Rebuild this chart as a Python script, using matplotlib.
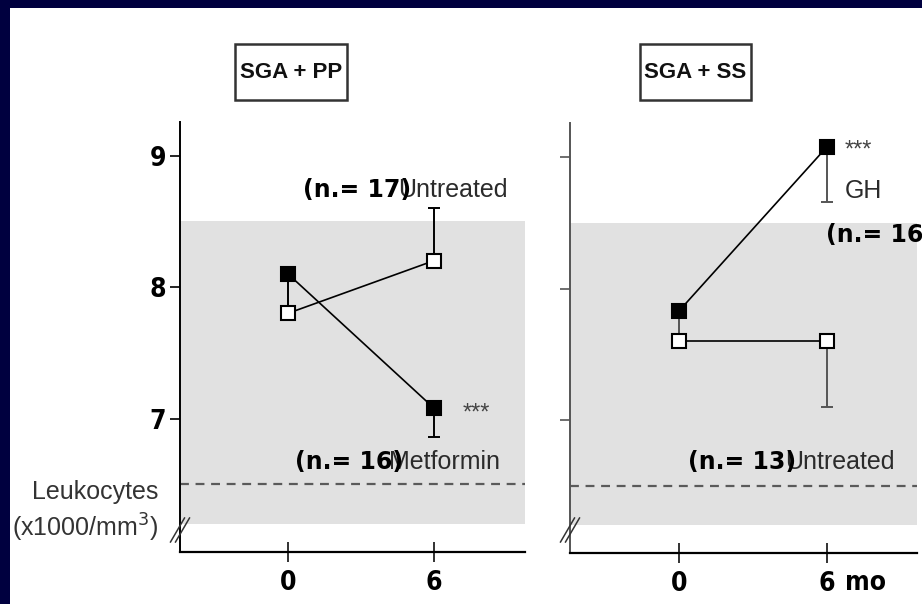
import matplotlib
matplotlib.use('Agg')
import matplotlib.pyplot as plt
from matplotlib import font_manager
from matplotlib.font_manager import FontProperties
from matplotlib.patches import Rectangle
from matplotlib.lines import Line2D

# ---------------- data ----------------
months = [0, 6]
xtick_labels = ['0', '6']
yticks = [7, 8, 9]
panel_titles = ['SGA + PP', 'SGA + SS']

pp_metformin = [8.10, 7.08]
pp_metformin_err_low = [0.25, 0.22]
pp_untreated = [7.80, 8.20]
pp_untreated_err_up = [0.0, 0.40]

ss_gh = [7.83, 9.08]
ss_gh_err_low = [0.20, 0.42]
ss_untreated = [7.60, 7.60]
ss_untreated_err_low = [0.0, 0.50]

normal_range = (6.2, 8.5)
reference_line = 6.5


# ---------------- fonts ----------------
def _num_weight(w):
    if isinstance(w, (int, float)):
        return int(w)
    return font_manager.weight_dict.get(str(w).lower(), 400)


def _is_narrow(f):
    n = f.name
    if 'Narrow' in n or 'Condensed' in n:
        return True
    s = f.stretch
    if isinstance(s, (int, float)):
        return s < 100
    return 'condensed' in str(s).lower()


def find_condensed(target_weight):
    best = None
    for f in font_manager.fontManager.ttflist:
        n = f.name
        if 'Mono' in n or 'Serif' in n or f.style != 'normal':
            continue
        if not _is_narrow(f):
            continue
        s = str(f.stretch).lower()
        if 'extra' in s or 'ultra' in s or 'Extra' in n or 'Ultra' in n:
            continue
        w = _num_weight(f.weight)
        score = abs(w - target_weight) / 50.0
        if 'Liberation' in n or 'Arial' in n:
            score += 0
        elif 'Noto Sans' in n:
            score += 1
        else:
            score += 2
        if 'semi' in s or 'Semi' in n:
            score += 0.5
        if best is None or score < best[0]:
            best = (score, f.fname)
    return best[1] if best else None


_cb = find_condensed(700)


def cond_bold(size):
    if _cb:
        return FontProperties(fname=_cb, size=size)
    return FontProperties(family='Liberation Sans', weight='bold', size=size * 0.85)


W, H = 922, 604
NAVY = '#00003f'
GRAYTXT = '#2b2b2b'

fig = plt.figure(figsize=(W / 100, H / 100), dpi=100)
fig.patch.set_facecolor(NAVY)
fig.patches.append(Rectangle((10 / W, 0), 1 - 10 / W, 1 - 8 / H, transform=fig.transFigure,
                             facecolor='white', edgecolor='none', zorder=-10))


def fx(px):
    return px / W


def fy(py):
    return 1 - py / H


axL = fig.add_axes([fx(180), fy(552), 345 / W, 430 / H])
axR = fig.add_axes([fx(570), fy(553), 347 / W, 430 / H])

for ax, xl, yl in [(axL, (-4.44, 9.75), (5.985, 9.255)), (axR, (-4.41, 9.64), (5.99, 9.26))]:
    ax.set_zorder(1)
    ax.patch.set_visible(False)
    ax.set_xlim(*xl)
    ax.set_ylim(*yl)
    for s in ['top', 'right']:
        ax.spines[s].set_visible(False)
    ax.axhspan(normal_range[0], normal_range[1], color='#e1e1e1', zorder=0, lw=0)
    ax.axhline(reference_line, color='#5a5a5a', lw=1.6, ls=(0, (4, 3)), zorder=1)
    ax.set_xticks(months)
    ax.set_xticklabels(xtick_labels)
    for lbl in ax.get_xticklabels():
        lbl.set_fontproperties(cond_bold(19))
    ax.tick_params(axis='x', direction='inout', length=14, width=1.3, pad=6, color='#222')
    ax.set_yticks(yticks)
    ax.tick_params(axis='y', direction='out', length=7, width=1.2, pad=3)
    ax.spines['bottom'].set_linewidth(1.6)
    ax.spines['left'].set_linewidth(1.4)

axL.set_yticklabels([str(v) for v in yticks])
for lbl in axL.get_yticklabels():
    lbl.set_fontproperties(cond_bold(19))
axR.set_yticklabels([])
axR.spines['left'].set_color('#555555')
axR.tick_params(axis='y', color='#555555')

ms = 9.5


def series(ax, y, low, up, filled, ecolor):
    ax.plot(months, y, color='black', lw=1.2, zorder=3)
    ax.errorbar(months, y, yerr=[low, up], fmt='none', ecolor=ecolor, elinewidth=1.4,
                capsize=4.5, capthick=1.4, zorder=2)
    ax.plot(months, y, ls='none', marker='s', ms=ms,
            mfc='black' if filled else 'white', mec='black', mew=1.5, zorder=4)


zeros = [0, 0]
series(axL, pp_metformin, pp_metformin_err_low, zeros, True, 'black')
series(axL, pp_untreated, zeros, pp_untreated_err_up, False, 'black')
series(axR, ss_gh, ss_gh_err_low, zeros, True, '#555555')
series(axR, ss_untreated, ss_untreated_err_low, zeros, False, '#555555')

# axis break marks
for xb in (180, 570):
    for off in (-2.5, 2.5):
        x0, y0 = xb - 7 + off, 542
        x1, y1 = xb + 7 + off, 518
        fig.add_artist(Line2D([fx(x0), fx(x1)], [fy(y0), fy(y1)], transform=fig.transFigure,
                              color='#333', lw=1.1, zorder=5))

bold = dict(fontfamily='DejaVu Sans', fontweight='bold', fontsize=17, color='black', va='center', ha='left')
gray = dict(fontfamily='Liberation Sans', fontsize=18, color=GRAYTXT, va='center', ha='left')
star = dict(fontfamily='Liberation Sans', fontsize=17, color='#444444', va='center', ha='left')

# left panel annotations
axL.text(4.55, 8.74, 'Untreated', **gray, zorder=5)
axL.text(0.62, 8.74, '(n.= 17)', **bold, zorder=6)
axL.text(7.2, 7.04, '***', **star, zorder=5)
axL.text(4.15, 6.67, 'Metformin', **gray, zorder=5)
axL.text(0.29, 6.67, '(n.= 16)', **bold, zorder=6)

# right panel annotations
axR.text(6.72, 9.05, '***', **star, zorder=5)
axR.text(6.72, 8.74, 'GH', **gray, zorder=5)
axR.text(5.95, 8.41, '(n.= 16)', **bold, zorder=6, clip_on=False)
axR.text(4.3, 6.68, 'Untreated', **gray, zorder=5)
axR.text(0.36, 6.68, '(n.= 13)', **bold, zorder=6)

# y-axis label
fig.text(fx(158), fy(492), 'Leukocytes', fontfamily='Liberation Sans', fontsize=18,
         color='#333', ha='right', va='center')
fig.text(fx(158), fy(528), '(x1000/mm$^3$)', fontfamily='Liberation Sans', fontsize=18,
         color='#333', ha='right', va='center')
fig.text(fx(845), fy(583), 'mo', fontproperties=cond_bold(19),
         color='black', ha='left', va='center')

# panel title boxes
for title, (l, r) in zip(panel_titles, [(235, 347), (640, 751)]):
    fig.patches.append(Rectangle((fx(l), fy(100)), (r - l) / W, 56 / H, transform=fig.transFigure,
                                 facecolor='white', edgecolor='#333', lw=1.8, zorder=2))
    fig.text(fx((l + r) / 2), fy(72), title, fontfamily='Liberation Sans', fontweight='bold',
             fontsize=16, ha='center', va='center', color='#111', zorder=3)

fig.savefig('out.png', dpi=100, facecolor=NAVY)
